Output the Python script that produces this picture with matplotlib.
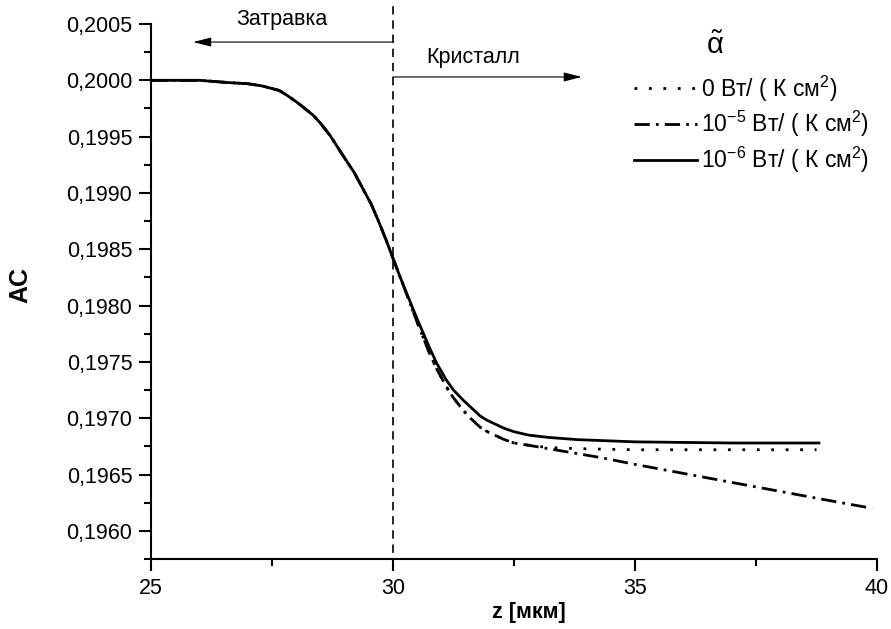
import numpy as np
import matplotlib
matplotlib.use("Agg")
import matplotlib.pyplot as plt
from matplotlib import ticker

plt.rcParams['font.family'] = ['Liberation Sans', 'DejaVu Sans']
plt.rcParams['mathtext.fontset'] = 'custom'
plt.rcParams['mathtext.rm'] = 'Liberation Sans'
plt.rcParams['mathtext.it'] = 'Liberation Sans:italic'

# values
z_solid = [25.0, 26.0, 26.6, 27.0, 27.3, 27.65, 27.8, 28.0, 28.15, 28.35, 28.5, 28.7,
           28.85, 29.0, 29.2, 29.4, 29.55, 29.7, 29.85, 30.0, 30.15, 30.3, 30.5,
           30.75, 30.9, 31.1, 31.25, 31.45, 31.6, 31.8, 31.95, 32.1, 32.3, 32.5,
           32.8, 33.2, 33.8, 35.0, 37.0, 38.8]
ac_solid = [0.20000, 0.20000, 0.19998, 0.19997, 0.19995, 0.19991, 0.19987, 0.19981,
            0.19976, 0.19969, 0.19962, 0.19951, 0.19941, 0.19931, 0.19918, 0.19902,
            0.19890, 0.19875, 0.19859, 0.19842, 0.19825, 0.19809, 0.19788,
            0.19763, 0.19749, 0.19734, 0.19725, 0.19716, 0.19710, 0.19702, 0.19698,
            0.19695, 0.19691, 0.19688, 0.19685, 0.19683, 0.19681, 0.19679, 0.19678,
            0.19678]

z_dot = [25.0, 26.0, 26.6, 27.0, 27.3, 27.65, 27.8, 28.0, 28.15, 28.35, 28.5, 28.7,
         28.85, 29.0, 29.2, 29.4, 29.55, 29.7, 29.85, 30.0, 30.15, 30.3, 30.5,
         30.75, 30.9, 31.1, 31.25, 31.45, 31.6, 31.8, 31.95, 32.1, 32.3, 32.5,
         32.8, 33.2, 33.8, 35.0, 37.0, 38.75]
ac_dot = [0.20000, 0.20000, 0.19998, 0.19997, 0.19995, 0.19991, 0.19987, 0.19981,
          0.19976, 0.19969, 0.19962, 0.19951, 0.19941, 0.19931, 0.19918, 0.19902,
          0.19890, 0.19875, 0.19859, 0.19842, 0.19825, 0.19808, 0.19785,
          0.19758, 0.19744, 0.19728, 0.19718, 0.19707, 0.19700, 0.19692, 0.19688,
          0.19685, 0.19681, 0.19678, 0.19676, 0.19674, 0.19673, 0.19672, 0.19672,
          0.19672]

z_dash = [25.0, 26.0, 26.6, 27.0, 27.3, 27.65, 27.8, 28.0, 28.15, 28.35, 28.5, 28.7,
          28.85, 29.0, 29.2, 29.4, 29.55, 29.7, 29.85, 30.0, 30.15, 30.3, 30.5,
          30.75, 30.9, 31.1, 31.25, 31.45, 31.6, 31.8, 31.95, 32.1, 32.3, 32.5,
          32.8, 33.2, 34.3, 35.0, 36.0, 37.0, 38.0, 39.0, 39.9]
ac_dash = [0.20000, 0.20000, 0.19998, 0.19997, 0.19995, 0.19991, 0.19987, 0.19981,
           0.19976, 0.19969, 0.19962, 0.19951, 0.19941, 0.19931, 0.19918, 0.19902,
           0.19890, 0.19875, 0.19859, 0.19842, 0.19825, 0.19808, 0.19785,
           0.19758, 0.19744, 0.19728, 0.19718, 0.19707, 0.19700, 0.19692, 0.19688,
           0.19685, 0.19681, 0.19678, 0.19676, 0.19673, 0.19665, 0.19659, 0.19651,
           0.19643, 0.19635, 0.19627, 0.19620]

labels = ['0 Вт/ ( К см$^2$)', '10$^{-5}$ Вт/ ( К см$^2$)', '10$^{-6}$ Вт/ ( К см$^2$)']
boundary = 30.0

fig = plt.figure(figsize=(8.91, 6.29), dpi=100)
ax = fig.add_axes([0.1695, 0.1113, 0.8148, 0.8505])

lw = 2.0
l1, = ax.plot(z_dot, ac_dot, color='black', lw=lw, linestyle=(0, (1, 4.2)))
l2, = ax.plot(z_dash, ac_dash, color='black', lw=lw, linestyle=(0, (5.5, 2.2, 1, 2.2)))
l3, = ax.plot(z_solid, ac_solid, color='black', lw=lw)

ax.set_xlim(25, 40)
ax.set_ylim(0.19575, 0.2005)

# boundary seed / crystal
ax.plot([boundary, boundary], [0.19568, 0.20069], color='black', lw=1.2,
        linestyle=(0, (5, 3.5)), clip_on=False)
ax.annotate('', xy=(25.87, 0.20034), xytext=(boundary, 0.20034),
            arrowprops=dict(arrowstyle='-|>,head_length=1.1,head_width=0.28',
                            mutation_scale=10, color='black', lw=0.8, shrinkA=0, shrinkB=0),
            annotation_clip=False)
ax.annotate('', xy=(33.9, 0.20003), xytext=(boundary, 0.20003),
            arrowprops=dict(arrowstyle='-|>,head_length=1.1,head_width=0.28',
                            mutation_scale=10, color='black', lw=0.8, shrinkA=0, shrinkB=0))
ax.text(27.7, 0.20054, 'Затравка', fontsize=15.5, ha='center', va='center')
ax.text(31.65, 0.20020, 'Кристалл', fontsize=15.5, ha='center', va='center')

leg = ax.legend([l1, l2, l3], labels, loc='upper left', bbox_to_anchor=(0.653, 0.925),
                frameon=False, fontsize=16.5, handlelength=2.75, handletextpad=0.15,
                labelspacing=0.25, borderaxespad=0)
fig.text(715 / 891, 1 - 46 / 629, r'$\tilde{\mathrm{\alpha}}$', fontsize=21,
         ha='center', va='center')

ax.spines['top'].set_visible(False)
ax.spines['right'].set_visible(False)
ax.spines['left'].set_linewidth(1.5)
ax.spines['bottom'].set_linewidth(1.5)

ax.xaxis.set_major_locator(ticker.MultipleLocator(5))
ax.xaxis.set_minor_locator(ticker.MultipleLocator(2.5))
ax.yaxis.set_major_locator(ticker.MultipleLocator(0.0005))
ax.yaxis.set_minor_locator(ticker.MultipleLocator(0.00025))
ax.yaxis.set_major_formatter(ticker.FuncFormatter(lambda v, p: f"{v:.4f}".replace('.', ',')))
ax.tick_params(which='major', length=8.5, width=1.5, labelsize=15.5, pad=5)
ax.tick_params(which='minor', length=5, width=1.5)

ax.set_ylabel('AC', fontsize=18, fontweight='bold')
ax.yaxis.set_label_coords(-0.164, 0.512)
ax.set_xlabel('z [мкм]', fontsize=15.5, fontweight='bold', va='top')
ax.xaxis.set_label_coords(0.52, -0.08)

plt.savefig('out.png', dpi=100)
